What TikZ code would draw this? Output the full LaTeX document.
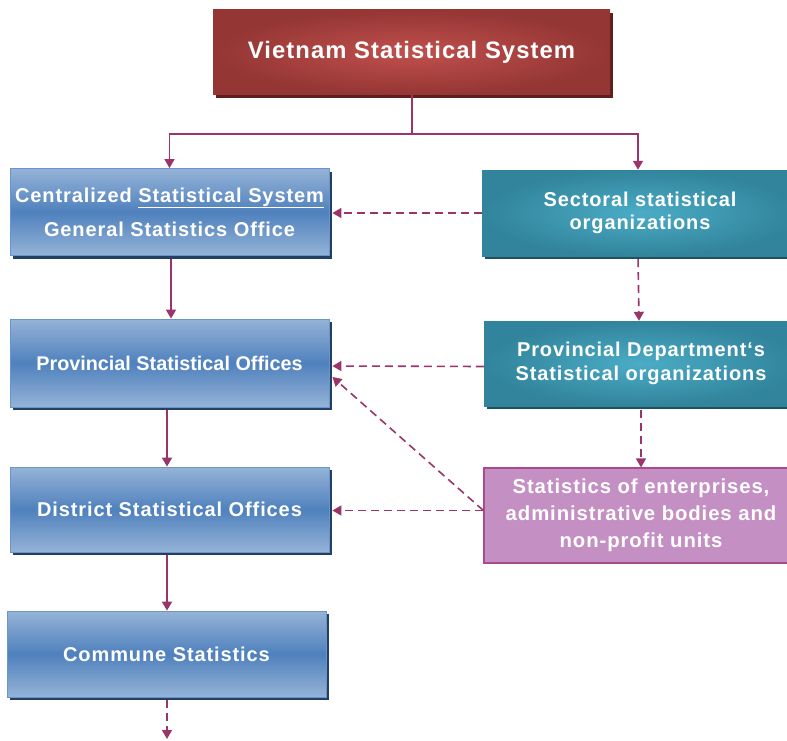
\documentclass[tikz,border=0pt]{standalone}
\usepackage{fontspec}
\setmainfont{Liberation Sans}[LetterSpace=4.5]
\newfontfamily\tightfont{Liberation Sans}
\usetikzlibrary{arrows.meta,shadows}
\definecolor{conn}{HTML}{9B3468}
\definecolor{bluetop}{HTML}{95B3D7}
\definecolor{bluemid}{HTML}{4F81BD}
\definecolor{blueline}{HTML}{6A95CA}
\definecolor{blueshadow}{HTML}{243F66}
\definecolor{tealin}{HTML}{4BACC6}
\definecolor{tealout}{HTML}{31849B}
\definecolor{tealshadow}{HTML}{1E5260}
\definecolor{redin}{HTML}{C0504D}
\definecolor{redout}{HTML}{943634}
\definecolor{redshadow}{HTML}{5E1F1E}
\definecolor{pinkfill}{HTML}{C490C4}
\definecolor{pinkline}{HTML}{A84A8C}
\begin{document}
\begin{tikzpicture}[x=1pt,y=-1pt,
  basebox/.style={rectangle, inner sep=0pt, align=center, text=white,
    font=\fontsize{20}{26}\selectfont\bfseries},
  bluebox/.style={basebox, draw=blueline, line width=0.8pt,
    top color=bluetop, bottom color=bluetop, middle color=bluemid,
    drop shadow={shadow xshift=3pt, shadow yshift=-3pt, opacity=1, fill=blueshadow},
    minimum width=319pt},
  tealbox/.style={basebox, draw=none, inner color=tealin, outer color=tealout,
    drop shadow={shadow xshift=3pt, shadow yshift=-3pt, opacity=1, fill=tealshadow}},
  redbox/.style={basebox, draw=none, inner color=redin, outer color=redout,
    font=\fontsize{23.8}{28}\selectfont\bfseries,
    drop shadow={shadow xshift=3pt, shadow yshift=-3pt, opacity=1, fill=redshadow}},
  pinkbox/.style={basebox, draw=pinkline, line width=1.2pt, fill=pinkfill},
  solidarrow/.style={draw=conn, line width=1.6pt, -{Triangle[width=10pt,length=9pt]}},
  dasharrow/.style={solidarrow, dash pattern=on 8pt off 5pt},
  plainline/.style={draw=conn, line width=1.6pt}
]
\useasboundingbox (0,0) rectangle (787,741);
\clip (0,0) rectangle (787,741);

\node[redbox, minimum width=397pt, minimum height=85pt] (top) at (411.5,52.5)
  {Vietnam Statistical System};

\node[bluebox, minimum height=87pt] (cent) at (169.5,212)
  {Centralized \underline{Statistical System}\\[8pt] General Statistics Office};
\node[bluebox, minimum height=88pt, font=\tightfont\fontsize{19.8}{24}\selectfont\bfseries] (pso) at (169.5,363)
  {Provincial Statistical Offices};
\node[bluebox, minimum height=85pt] (dist) at (169.5,509.5)
  {District Statistical Offices};
\node[bluebox, minimum height=86pt] (comm) at (166.5,654)
  {Commune Statistics};

\node[tealbox, minimum width=316pt, minimum height=86pt] (sect) at (640,213)
  {Sectoral statistical\\[-3pt] organizations};
\node[tealbox, minimum width=314pt, minimum height=85pt] (pdept) at (641,363.5)
  {Provincial Department‘s\\[-2pt] Statistical organizations};
\node[pinkbox, minimum width=314pt, minimum height=95pt, font=\fontsize{20.3}{26}\selectfont\bfseries] (stats) at (641,515.5)
  {Statistics of enterprises,\\[1pt] administrative bodies and\\[1pt] non-profit units};

% top split
\coordinate (split) at (412,134);
\path[plainline] ([xshift=0.5pt]top.south) -- (split);
\path[solidarrow] (split) -| (cent.north);
\path[solidarrow] (split) -| ([xshift=-2pt]sect.north);

% left column
\path[solidarrow, shorten <=3pt] ([xshift=1.5pt]cent.south) -- ([xshift=1.5pt]pso.north);
\path[solidarrow, shorten <=3pt] ([xshift=-2.5pt]pso.south) -- ([xshift=-2.5pt]dist.north);
\path[solidarrow, shorten <=3pt] ([xshift=-2.5pt]dist.south) -- ([xshift=0.5pt]comm.north);
\coordinate (bottomend) at (167,739);
\path[dasharrow, shorten <=3pt] ([xshift=0.5pt]comm.south) -- (bottomend);

% right column
\path[dasharrow, shorten <=3pt] ([xshift=-2pt]sect.south) -- ([xshift=-2pt]pdept.north);
\path[dasharrow, shorten <=4pt] (pdept.south) -- (stats.north);

% horizontal links
\path[dasharrow, shorten >=3pt] (sect.west) -- (cent.east |- sect.west);
\path[dasharrow, shorten >=3pt] ([yshift=-3pt]pdept.west) -- ([yshift=-3pt]pso.east);
\coordinate (sw) at ([yshift=5pt]stats.west);
\path[dasharrow, shorten >=3pt] (sw) -- (dist.east |- sw);
\path[dasharrow] (sw) -- ([xshift=3pt,yshift=-14pt]pso.east);
\end{tikzpicture}
\end{document}
